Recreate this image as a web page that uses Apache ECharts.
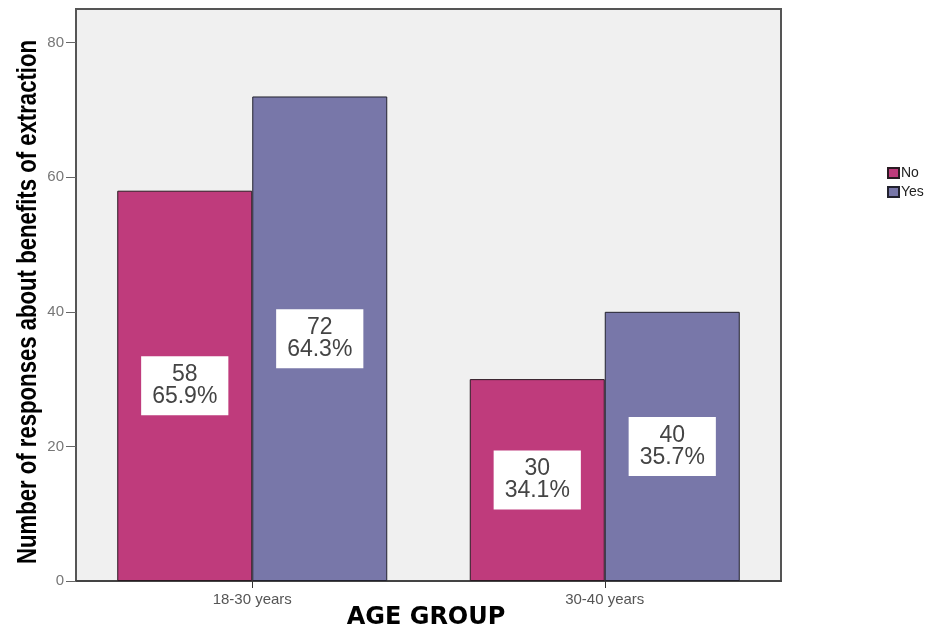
<!DOCTYPE html>
<html>
<head>
<meta charset="utf-8">
<script src="https://cdn.jsdelivr.net/npm/echarts@6/dist/echarts.min.js"></script>
<style>html,body{margin:0;padding:0;background:#fff}#c{width:944px;height:630px}</style>
</head>
<body>
<div id="c"></div>
<script>
const categories = ['18-30 years', '30-40 years'];
const seriesNames = ['No', 'Yes'];
const noCounts = [58, 30];
const yesCounts = [72, 40];
const noPercents = ['65.9%', '34.1%'];
const yesPercents = ['64.3%', '35.7%'];
const yTicks = [0, 20, 40, 60, 80];
const yTitle = 'Number of responses about benefits of extraction';
const xTitle = 'AGE GROUP';

const chart = echarts.init(document.getElementById('c'), null, {renderer: 'canvas'});

function labelFor(pcts) {
  return {
    show: true,
    position: 'inside',
    formatter: p => p.value + '\n' + pcts[p.dataIndex],
    backgroundColor: '#ffffff',
    padding: [8, 11, 7, 11],
    fontFamily: 'Liberation Sans, Arial, sans-serif',
    fontSize: 23,
    lineHeight: 22,
    color: '#444',
    align: 'center'
  };
}

chart.setOption({
  animation: false,
  backgroundColor: '#ffffff',
  grid: {
    left: 76, right: 163, top: 9, bottom: 49,
    outerBoundsMode: 'none', containLabel: false,
    show: true, backgroundColor: '#F0F0F0', borderColor: '#555', borderWidth: 2
  },
  legend: {
    data: seriesNames,
    orient: 'vertical',
    left: 882, top: 161,
    itemWidth: 11, itemHeight: 10, itemGap: 5,
    icon: 'rect',
    textStyle: {fontFamily: 'Liberation Sans, Arial, sans-serif', fontSize: 14, color: '#222', padding: [0, 0, 0, -3]}
  },
  graphic: [{
    type: 'text',
    x: 29, y: 302,
    rotation: Math.PI / 2,
    scaleX: 0.82,
    style: {
      text: yTitle,
      font: 'bold 27px "Liberation Sans", Arial, sans-serif',
      fill: '#000',
      align: 'center',
      verticalAlign: 'middle'
    }
  }, {
    type: 'text',
    x: 426, y: 618,
    style: {
      text: xTitle,
      font: 'bold 24px "DejaVu Sans", sans-serif',
      fill: '#000',
      align: 'center',
      verticalAlign: 'middle'
    }
  }],
  xAxis: {
    type: 'category',
    data: categories,
    axisLine: {show: true, lineStyle: {color: '#444', width: 2}},
    axisTick: {show: true, alignWithLabel: true, length: 7, lineStyle: {color: '#333'}},
    axisLabel: {fontFamily: 'Liberation Sans, Arial, sans-serif', fontSize: 15, color: '#555', margin: 11}
  },
  yAxis: {
    type: 'value',
    min: 0, max: 85, interval: 20,
    splitLine: {show: false},
    axisLine: {show: true, lineStyle: {color: '#555', width: 2}},
    axisTick: {show: true, length: 10, lineStyle: {color: '#666'}, customValues: yTicks},
    axisLabel: {fontFamily: 'Liberation Sans, Arial, sans-serif', fontSize: 15, color: '#777', margin: 12, customValues: yTicks}
  },
  series: [
    {
      name: seriesNames[0], type: 'bar', data: noCounts,
      barWidth: 135, barGap: '0%',
      itemStyle: {color: '#BF3B7C', borderColor: '#2a1a22', borderWidth: 1},
      label: labelFor(noPercents)
    },
    {
      name: seriesNames[1], type: 'bar', data: yesCounts,
      barWidth: 135, barGap: '0%',
      itemStyle: {color: '#7877A9', borderColor: '#22222e', borderWidth: 1},
      label: labelFor(yesPercents)
    }
  ]
});
</script>
</body>
</html>
